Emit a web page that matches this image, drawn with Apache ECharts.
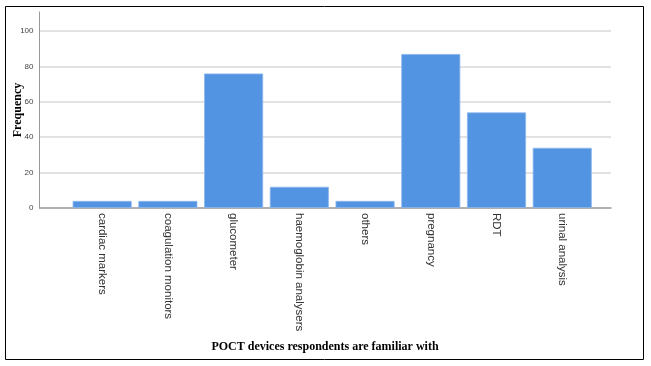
<!DOCTYPE html>
<html>
<head>
<meta charset="utf-8">
<script src="https://cdn.jsdelivr.net/npm/echarts@6/dist/echarts.min.js"></script>
<style>
html,body{margin:0;padding:0;background:#fff;}
#chart{width:651px;height:366px;}
</style>
</head>
<body>
<div id="chart"></div>
<script>
const categories = ['cardiac markers','coagulation monitors','glucometer','haemoglobin analysers','others','pregnancy','RDT','urinal analysis'];
const frequencies = [4, 4, 76, 12, 4, 87, 54, 34];
const yTicks = {min: 0, max: 100, interval: 20};
const xTitle = 'POCT devices respondents are familiar with';
const yTitle = 'Frequency';

const chart = echarts.init(document.getElementById('chart'), null, {renderer: 'canvas'});
chart.setOption({
  animation: false,
  backgroundColor: '#ffffff',
  title: {
    text: xTitle,
    left: 320, top: 336,
    textAlign: 'center',
    textStyle: {fontFamily: 'Liberation Serif', fontWeight: 'bold', fontSize: 12, color: '#000'}
  },
  graphic: [{
    type: 'rect', silent: true,
    shape: {x: 5.5, y: 6.5, width: 638, height: 353},
    style: {fill: null, stroke: '#000', lineWidth: 1}
  }],
  grid: [
    {left: 69.3, right: 55.9, top: 31, bottom: 158},
    {left: 39.5, right: 40, top: 31, bottom: 158},
    {left: 39.5, right: 40, top: 12, bottom: 158}
  ],
  xAxis: [
    {gridIndex: 0, type: 'category', data: categories,
     axisLine: {show: false}, axisTick: {show: false},
     axisLabel: {rotate: -90, margin: 5, fontFamily: 'Liberation Sans', fontSize: 11.5, color: '#333'}},
    {gridIndex: 1, type: 'category', data: [''],
     axisLine: {show: true, lineStyle: {color: '#a0a0a0', width: 1.5}},
     axisTick: {show: false}, axisLabel: {show: false}},
    {gridIndex: 2, type: 'category', data: [''], show: false}
  ],
  yAxis: [
    {gridIndex: 0, type: 'value', min: yTicks.min, max: yTicks.max, interval: yTicks.interval, show: false},
    {gridIndex: 1, type: 'value', min: yTicks.min, max: yTicks.max, interval: yTicks.interval,
     axisLine: {show: false}, axisTick: {show: false},
     axisLabel: {margin: 6, fontFamily: 'Liberation Sans', fontSize: 8, color: '#444'},
     splitLine: {show: true, lineStyle: {color: '#d9d9d9', width: 1.5}}},
    {gridIndex: 2, type: 'value', min: 0, max: 1,
     axisLine: {show: true, lineStyle: {color: '#999', width: 1}},
     axisTick: {show: false}, axisLabel: {show: false}, splitLine: {show: false},
     name: yTitle, nameLocation: 'middle', nameGap: 16, nameRotate: 90,
     nameTextStyle: {fontFamily: 'Liberation Serif', fontWeight: 'bold', fontSize: 12, color: '#000'}}
  ],
  series: [{
    type: 'bar', xAxisIndex: 0, yAxisIndex: 0,
    data: frequencies,
    barCategoryGap: '10.2%',
    itemStyle: {color: '#5394e2', borderColor: '#8db6ec', borderWidth: 0.8}
  }]
});
</script>
</body>
</html>
